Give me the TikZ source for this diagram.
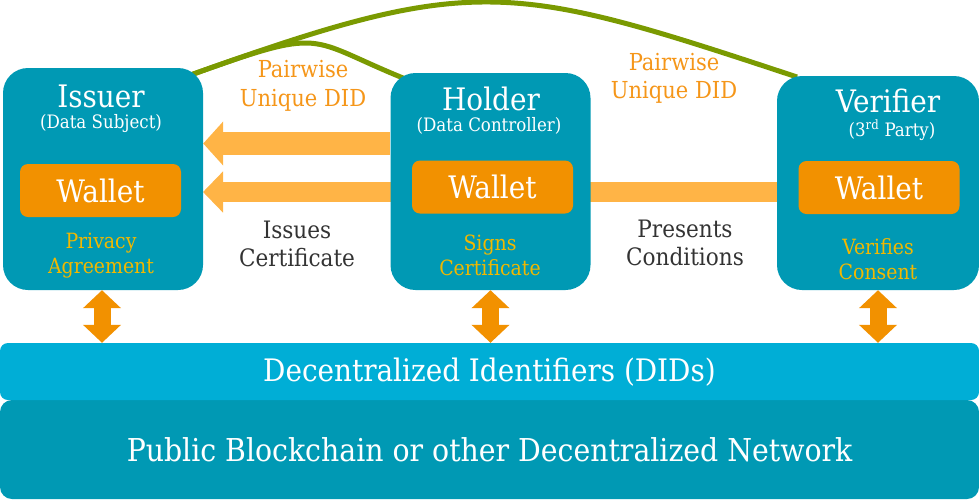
\documentclass[tikz,border=0pt]{standalone}
\usepackage{fontspec}
\setmainfont{DejaVu Serif Condensed}
\usetikzlibrary{arrows.meta}
\definecolor{teal}{RGB}{0,153,180}
\definecolor{didblue}{RGB}{0,174,214}
\definecolor{walletor}{RGB}{242,145,0}
\definecolor{lightor}{RGB}{255,180,70}
\definecolor{goldtxt}{RGB}{242,184,0}
\definecolor{ortxt}{RGB}{245,150,25}
\definecolor{olive}{RGB}{122,154,1}
\definecolor{darktxt}{RGB}{51,51,51}
\tikzset{
  actor/.style={fill=teal, rounded corners=25pt, minimum width=200pt, inner sep=0pt},
  wallet/.style={fill=walletor, rounded corners=8pt, minimum width=161pt, minimum height=53pt, inner sep=0pt, text=white, font=\fontsize{31}{34}\selectfont},
  title/.style={text=white, font=\fontsize{31}{34}\selectfont, inner sep=0pt},
  subtitle/.style={text=white, font=\fontsize{18.5}{20}\selectfont, inner sep=0pt},
  goldlabel/.style={text=goldtxt, font=\fontsize{21}{25}\selectfont, align=center, inner sep=0pt},
  darklabel/.style={text=darktxt, font=\fontsize{24}{28}\selectfont, align=center, inner sep=0pt},
  orlabel/.style={text=ortxt, font=\fontsize{23.4}{28.5}\selectfont, align=center, inner sep=0pt},
  bigarrow/.style={lightor, line width=23pt, -{Triangle[width=43pt,length=20pt]}},
  longbar/.style={lightor, line width=20pt, -{Triangle[width=40pt,length=20pt]}},
  dblarrow/.style={walletor, line width=17pt, {Triangle[width=37pt,length=18pt]}-{Triangle[width=37pt,length=18pt]}},
  didcurve/.style={olive, line width=5pt},
}
\begin{document}
\begin{tikzpicture}[x=1pt,y=-1pt]
\useasboundingbox (0,0) rectangle (979,499);
% bottom layers
\node[fill=teal, rounded corners=12pt, minimum width=979pt, minimum height=99pt, inner sep=0pt] (net) at (489.5,449.5) {};
\node[text=white, font=\fontsize{31.5}{34}\selectfont, inner sep=0pt] (nettext) at (489.5,450) {Public Blockchain or other Decentralized Network};
\node[fill=didblue, rounded corners=8pt, minimum width=979pt, minimum height=57pt, inner sep=0pt] (did) at (489.5,371.5) {};
\node[text=white, font=\fontsize{31}{34}\selectfont, inner sep=0pt] (didtext) at (489.5,372) {Decentralized Identifiers (DIDs)};
% green curves
\coordinate (g0) at (185,77);
\coordinate (g1) at (408,80);
\coordinate (g2) at (797,77);
\draw[didcurve] (g0) .. controls (475,-27) and (507,-19) .. (g2);
\draw[didcurve] (g0) .. controls (330,25) and (303,38) .. (g1);
% long bar behind holder
\coordinate (b0) at (778,192);
\coordinate (b1) at (203,192);
\draw[longbar] (b0) -- (b1);
% actor boxes
\node[actor, minimum height=222pt] (issuer) at (103,179) {};
\node[actor, minimum height=217pt] (holder) at (490.5,181.5) {};
\node[actor, minimum width=202pt, minimum height=214pt] (verifier) at (878,183) {};
% upper arrow
\coordinate (a0) at (390,143.5);
\draw[bigarrow] (a0) -- (issuer.east |- a0);
% titles
\node[title] (t1) at (101,96.5) {Issuer};
\node[subtitle] (s1) at (101,123.5) {(Data Subject)};
\node[title] (t2) at (491,98.5) {Holder};
\node[subtitle] (s2) at (489,125.5) {(Data Controller)};
\node[title] (t3) at (888,100.5) {Verifier};
\node[subtitle] (s3) at (892,130) {(3\textsuperscript{rd} Party)};
% wallets
\node[wallet] (w1) at (100.5,190.5) {Wallet};
\node[wallet] (w2) at (492.5,187) {Wallet};
\node[wallet] (w3) at (879,187.5) {Wallet};
% gold labels
\node[goldlabel] (l1) at (101,255.5) {Privacy\\Agreement};
\node[goldlabel] (l2) at (490,255) {Signs\\Certificate};
\node[goldlabel] (l3) at (878,259) {Verifies\\Consent};
% dark labels
\node[darklabel] (d1) at (297,244) {Issues\\Certificate};
\node[darklabel] (d2) at (685,242.5) {Presents\\Conditions};
% pairwise labels
\node[orlabel] (p1) at (303,86) {Pairwise\\Unique DID};
\node[orlabel] (p2) at (674,78.5) {Pairwise\\Unique DID};
% double arrows
\draw[dblarrow] (issuer.south -| 102,0) -- (did.north -| 102,0);
\draw[dblarrow] (holder.south) -- (did.north -| holder.south);
\draw[dblarrow] (verifier.south) -- (did.north -| verifier.south);
\end{tikzpicture}
\end{document}
